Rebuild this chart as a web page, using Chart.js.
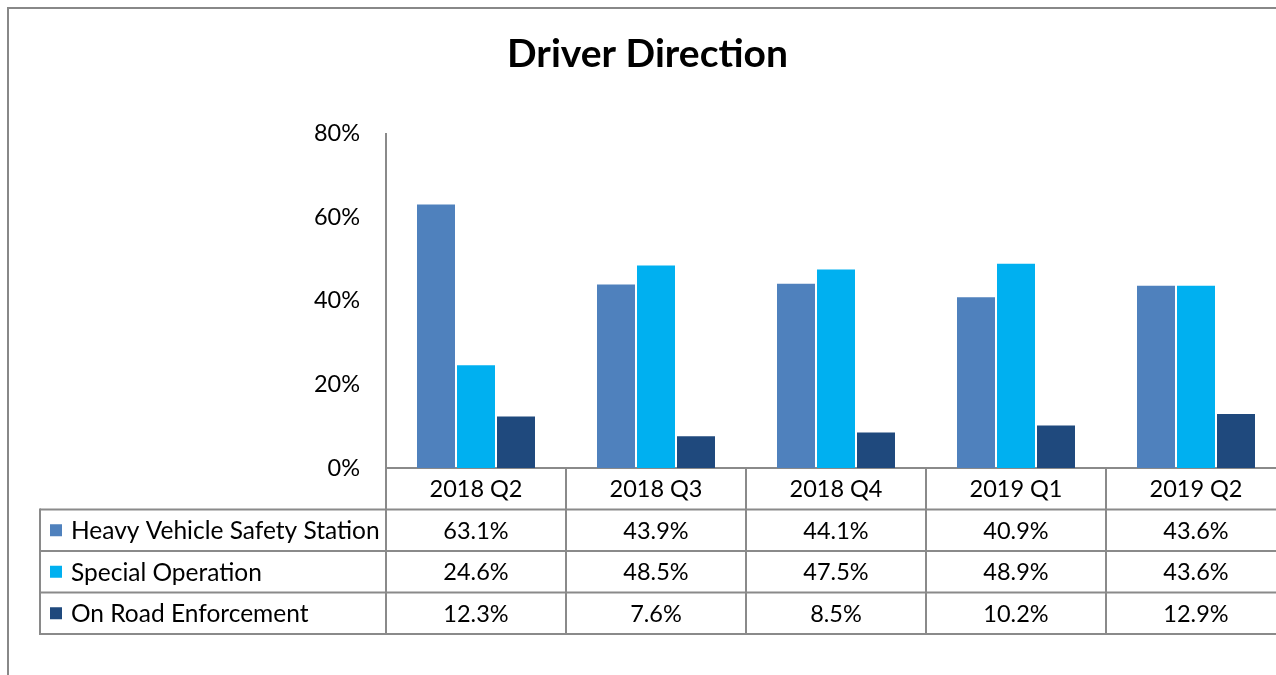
<!DOCTYPE html>
<html><head><meta charset="utf-8">
<script src="https://cdn.jsdelivr.net/npm/chart.js@4.4.0/dist/chart.umd.min.js"></script>
<style>
html,body{margin:0;padding:0;background:#fff;overflow:hidden;width:1276px;height:675px}
#wrap{position:absolute;left:0;top:0;width:1296px;height:675px}
</style></head><body>
<div id="wrap"><canvas id="c" width="1296" height="675"></canvas></div>
<script>
const categories = ['2018 Q2','2018 Q3','2018 Q4','2019 Q1','2019 Q2'];
const seriesNames = ['Heavy Vehicle Safety Station','Special Operation','On Road Enforcement'];
const heavyVehicle = [63.1,43.9,44.1,40.9,43.6];
const specialOperation = [24.6,48.5,47.5,48.9,43.6];
const onRoad = [12.3,7.6,8.5,10.2,12.9];
const yTicks = [0,20,40,60,80];
const colors = ['#4F81BD','#00B0F0','#1F497D'];

const FONT = 'Lato';
const LINE = '#8a8a8a';

const tablePlugin = {
  id:'dataTable',
  beforeDraw(chart){
    const ctx = chart.ctx;
    ctx.save();
    ctx.strokeStyle = '#888'; ctx.lineWidth = 2;
    ctx.beginPath(); ctx.moveTo(8,chart.height); ctx.lineTo(8,8); ctx.lineTo(chart.width,8); ctx.stroke();
    ctx.restore();
  },
  afterDraw(chart){
    const {ctx, chartArea, scales:{x}} = chart;
    const rowH = 41.5, top = chartArea.bottom, bottom = top + 4*rowH;
    const catW = (chartArea.right - chartArea.left)/categories.length;
    ctx.save();
    ctx.strokeStyle = LINE; ctx.lineWidth = 2;
    for(let r=1;r<=4;r++){
      const y = top + r*rowH;
      ctx.beginPath(); ctx.moveTo(40,y); ctx.lineTo(chart.width,y); ctx.stroke();
    }
    ctx.beginPath(); ctx.moveTo(40,top+rowH-1); ctx.lineTo(40,bottom+1); ctx.stroke();
    categories.forEach((c,i)=>{
      const cx = x.getPixelForValue(i);
      [cx - catW/2, cx + catW/2].forEach(xx=>{
        ctx.beginPath(); ctx.moveTo(xx,top); ctx.lineTo(xx,bottom+1); ctx.stroke();
      });
    });
    ctx.font = '23.5px ' + FONT;
    ctx.textBaseline = 'middle';
    ctx.fillStyle = '#000'; ctx.textAlign = 'center';
    categories.forEach((c,i)=>ctx.fillText(c, x.getPixelForValue(i), top + rowH/2 + 1));
    [heavyVehicle, specialOperation, onRoad].forEach((arr,r)=>{
      const y = top + (r+1.5)*rowH + 1;
      ctx.textAlign = 'center'; ctx.fillStyle = '#000';
      ctx.font = '23.5px ' + FONT;
      arr.forEach((v,i)=>ctx.fillText(v.toFixed(1)+'%', x.getPixelForValue(i), y));
      ctx.fillStyle = colors[r];
      ctx.fillRect(50, y-7, 12, 12);
      ctx.fillStyle = '#000'; ctx.textAlign = 'left';
      ctx.font = '24.5px ' + FONT;
      ctx.fillText(seriesNames[r], 71, y);
    });
    ctx.restore();
  }
};

new Chart(document.getElementById('c'), {
  type:'bar',
  data:{
    labels: categories,
    datasets:[
      {label:seriesNames[0], data:heavyVehicle, backgroundColor:colors[0]},
      {label:seriesNames[1], data:specialOperation, backgroundColor:colors[1]},
      {label:seriesNames[2], data:onRoad, backgroundColor:colors[2]}
    ]
  },
  options:{
    responsive:false, animation:false, devicePixelRatio:1,
    categoryPercentage:0.6667, barPercentage:0.95,
    layout:{padding:{left:9,right:10,top:0,bottom:0}},
    plugins:{
      legend:{display:false}, tooltip:{enabled:false},
      title:{display:true, text:'Driver Direction', color:'#000',
        font:{family:FONT, size:39, weight:'bold', lineHeight:1.2},
        padding:{top:31, bottom:56}}
    },
    scales:{
      x:{
        grid:{display:false, drawTicks:false},
        ticks:{display:false},
        border:{display:true, color:LINE, width:2},
        afterFit(s){ s.height = 207; }
      },
      y:{
        min:0, max:80,
        grid:{display:false, drawTicks:false},
        border:{display:true, color:LINE, width:2},
        afterBuildTicks(s){ s.ticks = yTicks.map(v=>({value:v})); },
        ticks:{padding:26, color:'#000', font:{family:FONT, size:23.5},
          callback:(v)=>v+'%'},
        afterFit(s){ s.width = 377; }
      }
    }
  },
  plugins:[tablePlugin]
});
</script>
</body></html>
